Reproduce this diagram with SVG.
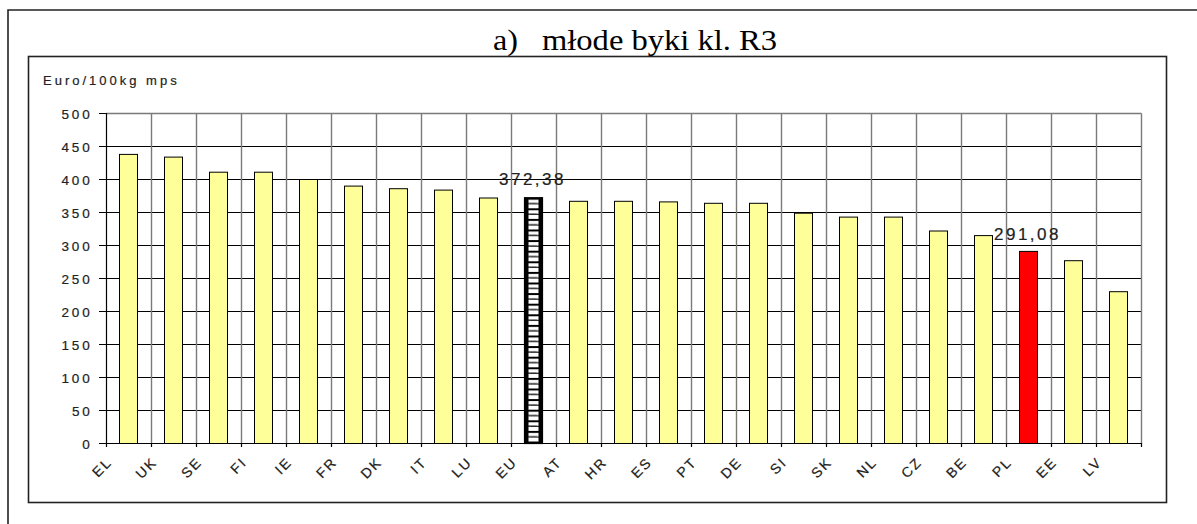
<svg xmlns="http://www.w3.org/2000/svg" width="1197" height="524" viewBox="0 0 1197 524">
<style>
.frame{fill:none;stroke:#222;stroke-width:1.6}
.hg{stroke:#000;stroke-width:1}
.vg{stroke:#7a7a7a;stroke-width:1.4}
.ax{stroke:#000;stroke-width:1.2}
.bar{fill:#FFFF99;stroke:#000;stroke-width:1}
.red{fill:#FF0000;stroke:#000;stroke-width:1}
.t{font-family:"Liberation Sans",Arial,sans-serif;fill:#222;stroke:#222;stroke-width:0.2}
.yl{font-size:13.5px;letter-spacing:2.8px;text-anchor:end}
.xl{font-size:14px;letter-spacing:2px;text-anchor:end}
.vl{font-size:17px;letter-spacing:2.5px}
.unit{font-size:13px;letter-spacing:3px}
.title{font-family:"Liberation Serif","Times New Roman",serif;font-size:30px;fill:#000}
</style>
<defs>
<pattern id="brick" patternUnits="userSpaceOnUse" x="524.5" y="197.7" width="18" height="10.6">
<rect width="18" height="10.6" fill="#fff"/>
<rect x="0" y="0" width="18" height="2" fill="#000"/>
<rect x="0" y="0" width="4" height="10.6" fill="#000"/>
<rect x="14" y="0" width="4" height="10.6" fill="#000"/>
<rect x="4" y="5.3" width="10" height="1.3" fill="#000"/>
<rect x="4" y="6.6" width="1.5" height="4" fill="#fff"/>
<rect x="12.5" y="2" width="1.5" height="3.3" fill="#fff"/>
</pattern>
</defs>
<rect width="1197" height="524" fill="#fff"/>
<g id="outer-frame"><path d="M8 524 V10 H1197" class="frame" stroke-width="2"/></g>
<g id="chart-frame"><rect x="28.5" y="56.5" width="1138" height="446" class="frame"/></g>
<g id="title"><text class="title" y="50"><tspan x="493" textLength="25" lengthAdjust="spacingAndGlyphs">a)</tspan><tspan x="542" textLength="235" lengthAdjust="spacingAndGlyphs">młode byki kl. R3</tspan></text></g>
<g id="unit-label"><text class="t unit" x="43" y="85">Euro/100kg mps</text></g>
<g id="grid">
<path class="hg" d="M106 146.5H1141.5M106 179.5H1141.5M106 212.5H1141.5M106 245.5H1141.5M106 278.5H1141.5M106 311.5H1141.5M106 344.5H1141.5M106 377.5H1141.5M106 410.5H1141.5"/>
<path class="vg" d="M106 113.5H1141.5"/>
<path class="vg" d="M151.5 113.5V443.5M196.5 113.5V443.5M241.5 113.5V443.5M286.5 113.5V443.5M331.5 113.5V443.5M376.5 113.5V443.5M421.5 113.5V443.5M466.5 113.5V443.5M511.5 113.5V443.5M556.5 113.5V443.5M601.5 113.5V443.5M646.5 113.5V443.5M691.5 113.5V443.5M736.5 113.5V443.5M781.5 113.5V443.5M826.5 113.5V443.5M871.5 113.5V443.5M916.5 113.5V443.5M961.5 113.5V443.5M1006.5 113.5V443.5M1051.5 113.5V443.5M1096.5 113.5V443.5M1141.5 113.5V443.5"/>
</g>
<g id="bars">
<rect class="bar" x="119.5" y="154.4" width="18" height="289.1"/>
<rect class="bar" x="164.5" y="157.1" width="18" height="286.4"/>
<rect class="bar" x="209.5" y="172.2" width="18" height="271.3"/>
<rect class="bar" x="254.5" y="172.2" width="18" height="271.3"/>
<rect class="bar" x="299.5" y="179.5" width="18" height="264"/>
<rect class="bar" x="344.5" y="186.1" width="18" height="257.4"/>
<rect class="bar" x="389.5" y="188.7" width="18" height="254.8"/>
<rect class="bar" x="434.5" y="190.1" width="18" height="253.4"/>
<rect class="bar" x="479.5" y="198" width="18" height="245.5"/>
<rect x="524.5" y="197.7" width="18" height="245.8" fill="url(#brick)" stroke="#000" stroke-width="1.2"/>
<rect class="bar" x="569.5" y="201.3" width="18" height="242.2"/>
<rect class="bar" x="614.5" y="201.3" width="18" height="242.2"/>
<rect class="bar" x="659.5" y="201.9" width="18" height="241.6"/>
<rect class="bar" x="704.5" y="203.3" width="18" height="240.2"/>
<rect class="bar" x="749.5" y="203.3" width="18" height="240.2"/>
<rect class="bar" x="794.5" y="213.2" width="18" height="230.3"/>
<rect class="bar" x="839.5" y="217.1" width="18" height="226.4"/>
<rect class="bar" x="884.5" y="217.1" width="18" height="226.4"/>
<rect class="bar" x="929.5" y="231" width="18" height="212.5"/>
<rect class="bar" x="974.5" y="235.6" width="18" height="207.9"/>
<rect class="red" x="1019.5" y="251.4" width="18" height="192.1"/>
<rect class="bar" x="1064.5" y="260.7" width="18" height="182.8"/>
<rect class="bar" x="1109.5" y="291.7" width="18" height="151.8"/>
</g>
<g id="axes">
<path class="ax" d="M106.5 113V447M99 443.5H1142M99 113.5H106.5M99 146.5H106.5M99 179.5H106.5M99 212.5H106.5M99 245.5H106.5M99 278.5H106.5M99 311.5H106.5M99 344.5H106.5M99 377.5H106.5M99 410.5H106.5"/>
<path class="ax" d="M151.5 443V447M196.5 443V447M241.5 443V447M286.5 443V447M331.5 443V447M376.5 443V447M421.5 443V447M466.5 443V447M511.5 443V447M556.5 443V447M601.5 443V447M646.5 443V447M691.5 443V447M736.5 443V447M781.5 443V447M826.5 443V447M871.5 443V447M916.5 443V447M961.5 443V447M1006.5 443V447M1051.5 443V447M1096.5 443V447M1141.5 443V447"/>
</g>
<g id="y-labels">
<text class="t yl" x="92.5" y="118.5">500</text>
<text class="t yl" x="92.5" y="151.5">450</text>
<text class="t yl" x="92.5" y="184.5">400</text>
<text class="t yl" x="92.5" y="217.5">350</text>
<text class="t yl" x="92.5" y="250.5">300</text>
<text class="t yl" x="92.5" y="283.5">250</text>
<text class="t yl" x="92.5" y="316.5">200</text>
<text class="t yl" x="92.5" y="349.5">150</text>
<text class="t yl" x="92.5" y="382.5">100</text>
<text class="t yl" x="92.5" y="415.5">50</text>
<text class="t yl" x="92.5" y="448.5">0</text>
</g>
<g id="x-labels">
<text class="t xl" transform="translate(113 463) rotate(-45)">EL</text>
<text class="t xl" transform="translate(158 463) rotate(-45)">UK</text>
<text class="t xl" transform="translate(203 463) rotate(-45)">SE</text>
<text class="t xl" transform="translate(248 463) rotate(-45)">FI</text>
<text class="t xl" transform="translate(293 463) rotate(-45)">IE</text>
<text class="t xl" transform="translate(338 463) rotate(-45)">FR</text>
<text class="t xl" transform="translate(383 463) rotate(-45)">DK</text>
<text class="t xl" transform="translate(428 463) rotate(-45)">IT</text>
<text class="t xl" transform="translate(473 463) rotate(-45)">LU</text>
<text class="t xl" transform="translate(518 463) rotate(-45)">EU</text>
<text class="t xl" transform="translate(563 463) rotate(-45)">AT</text>
<text class="t xl" transform="translate(608 463) rotate(-45)">HR</text>
<text class="t xl" transform="translate(653 463) rotate(-45)">ES</text>
<text class="t xl" transform="translate(698 463) rotate(-45)">PT</text>
<text class="t xl" transform="translate(743 463) rotate(-45)">DE</text>
<text class="t xl" transform="translate(788 463) rotate(-45)">SI</text>
<text class="t xl" transform="translate(833 463) rotate(-45)">SK</text>
<text class="t xl" transform="translate(878 463) rotate(-45)">NL</text>
<text class="t xl" transform="translate(923 463) rotate(-45)">CZ</text>
<text class="t xl" transform="translate(968 463) rotate(-45)">BE</text>
<text class="t xl" transform="translate(1013 463) rotate(-45)">PL</text>
<text class="t xl" transform="translate(1058 463) rotate(-45)">EE</text>
<text class="t xl" transform="translate(1103 463) rotate(-45)">LV</text>
</g>
<g id="value-labels">
<text class="t vl" x="499" y="185">372,38</text>
<text class="t vl" x="994" y="240">291,08</text>
</g>
</svg>
